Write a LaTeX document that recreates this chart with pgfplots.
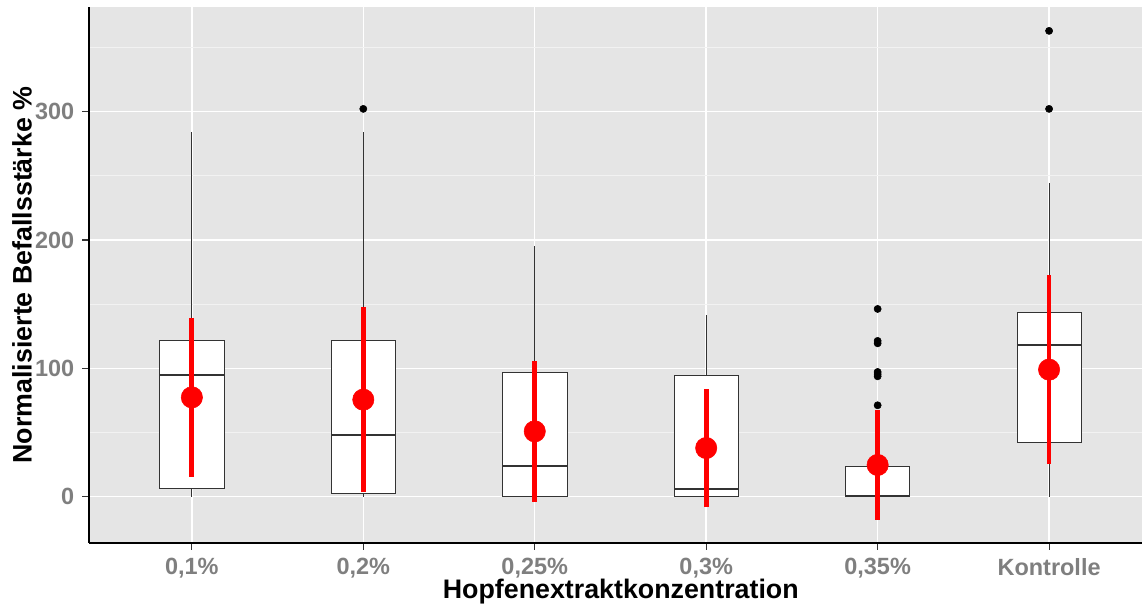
\documentclass[border=0pt]{standalone}
\usepackage{fontspec}
\setmainfont{Liberation Sans}
\usepackage{pgfplots}
\pgfplotsset{compat=1.18}
\definecolor{panelbg}{HTML}{E5E5E5}
\definecolor{ticklab}{HTML}{7F7F7F}
\definecolor{boxline}{HTML}{333333}
\definecolor{minorgrid}{HTML}{F2F2F2}
\begin{document}
\begin{tikzpicture}
\path[use as bounding box] (0,0) rectangle (856.5pt,457.5pt);
\begin{axis}[
  at={(66.75pt,50.25pt)}, anchor=south west,
  scale only axis, width=789.75pt, height=402pt,
  xmin=0.4, xmax=6.542, ymin=-36.1, ymax=381.6,
  axis background/.style={fill=panelbg},
  axis x line*=bottom, axis y line*=left,
  axis line style={black, line width=0.8pt},
  xtick={1,2,3,4,5,6},
  xticklabels={{0,1\%},{0,2\%},{0,25\%},{0,3\%},{0,35\%},{Kontrolle}},
  ytick={0,100,200,300}, minor ytick={50,150,250,350},
  xmajorgrids, ymajorgrids, yminorgrids,
  major grid style={white, line width=1.1pt},
  minor grid style={minorgrid, line width=0.55pt},
  tick style={boxline, line width=0.8pt},
  major tick length=5pt, minor tick length=0pt, tick align=outside,
  /pgf/number format/assume math mode=true,
  ticklabel style={font=\bfseries\fontsize{17.6}{20}\selectfont, text=ticklab},
  yticklabel style={xshift=-2.5pt},
  xticklabel style={yshift=-3pt},
  xlabel={Hopfenextraktkonzentration},
  ylabel={Normalisierte Befallsstärke \%},
  every axis x label/.style={at={(axis description cs:0.505,-0.0914)}, anchor=center,
     font=\bfseries\fontsize{20.1}{22}\selectfont, text=black},
  every axis y label/.style={at={(axis description cs:-0.0636,0.5)}, anchor=center, rotate=90,
     font=\bfseries\fontsize{20.1}{22}\selectfont, text=black},
  whisk/.style={draw=boxline, line width=0.6pt},
  boxs/.style={draw=boxline, fill=white, line width=0.6pt},
  med/.style={draw=boxline, line width=1.6pt},
]
% box 1
\addplot[whisk] coordinates {(1,0) (1,6.2)};
\addplot[whisk] coordinates {(1,121.4) (1,284)};
\addplot[boxs] coordinates {(0.8125,6.2) (1.1875,6.2) (1.1875,121.4) (0.8125,121.4)} -- cycle;
\addplot[med] coordinates {(0.8125,94.6) (1.1875,94.6)};
% box 2
\addplot[whisk] coordinates {(2,0) (2,2.9)};
\addplot[whisk] coordinates {(2,122.1) (2,284)};
\addplot[boxs] coordinates {(1.8125,2.9) (2.1875,2.9) (2.1875,122.1) (1.8125,122.1)} -- cycle;
\addplot[med] coordinates {(1.8125,48.3) (2.1875,48.3)};
% box 3
\addplot[whisk] coordinates {(3,97.2) (3,195.6)};
\addplot[boxs] coordinates {(2.8125,0) (3.1875,0) (3.1875,97.2) (2.8125,97.2)} -- cycle;
\addplot[med] coordinates {(2.8125,23.6) (3.1875,23.6)};
% box 4
\addplot[whisk] coordinates {(4,94.3) (4,141.3)};
\addplot[boxs] coordinates {(3.8125,0) (4.1875,0) (4.1875,94.3) (3.8125,94.3)} -- cycle;
\addplot[med] coordinates {(3.8125,6) (4.1875,6)};
% box 5
\addplot[whisk] coordinates {(5,23.6) (5,55)};
\addplot[boxs] coordinates {(4.8125,0) (5.1875,0) (5.1875,23.6) (4.8125,23.6)} -- cycle;
\addplot[med] coordinates {(4.8125,0.6) (5.1875,0.6)};
% box 6
\addplot[whisk] coordinates {(6,0) (6,42.1)};
\addplot[whisk] coordinates {(6,143.6) (6,244.5)};
\addplot[boxs] coordinates {(5.8125,42.1) (6.1875,42.1) (6.1875,143.6) (5.8125,143.6)} -- cycle;
\addplot[med] coordinates {(5.8125,117.9) (6.1875,117.9)};
% outliers
\addplot[only marks, mark=*, black, mark size=2.7pt]
  coordinates {(2,302.2) (5,71.2) (5,93.8) (5,95.5) (5,97.2) (5,119.5) (5,121.4) (5,146.3) (6,302.2) (6,363)};
% means with error bars
\addplot[red, line width=3.6pt] coordinates {(1,15.7) (1,139.1)};
\addplot[red, line width=3.6pt] coordinates {(2,3.6) (2,147.6)};
\addplot[red, line width=3.6pt] coordinates {(3,-3.9) (3,105.7)};
\addplot[red, line width=3.6pt] coordinates {(4,-8.0) (4,83.8)};
\addplot[red, line width=3.6pt] coordinates {(5,-17.8) (5,67.2)};
\addplot[red, line width=3.6pt] coordinates {(6,25.6) (6,172.4)};
\addplot[only marks, mark=*, red, mark size=8pt]
  coordinates {(1,77.4) (2,75.6) (3,50.9) (4,37.9) (5,24.7) (6,99.0)};
\end{axis}
\end{tikzpicture}
\end{document}
